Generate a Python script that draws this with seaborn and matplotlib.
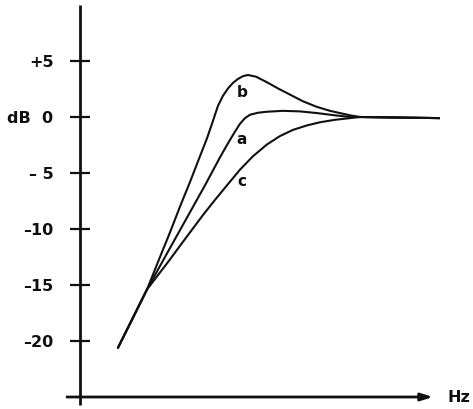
import matplotlib
matplotlib.use("Agg")
import matplotlib.pyplot as plt
import seaborn as sns
import pandas as pd

# ---- data (x is an arbitrary frequency scale) ----
b_x = [3.8, 6.7, 8.0, 9.0, 10.0, 11.0, 12.0, 12.7, 13.2, 13.8, 14.3, 14.8, 15.3, 15.8, 16.3, 16.8, 17.6, 18.7, 19.8, 21.0, 22.3, 23.7, 25.0, 26.0, 27.0, 28.0, 32.0, 36.0]
b_db = [-20.6, -15.4, -12.5, -10.3, -8.0, -5.8, -3.5, -1.9, -0.6, 1.0, 1.9, 2.55, 3.05, 3.4, 3.65, 3.75, 3.6, 3.1, 2.55, 2.0, 1.4, 0.9, 0.55, 0.35, 0.15, 0.0, -0.05, -0.1]
a_x = [3.8, 6.7, 8.5, 10.5, 12.5, 14.0, 14.7, 15.4, 16.0, 16.5, 17.0, 17.8, 18.7, 20.3, 22.0, 23.7, 25.5, 27.0, 28.0, 32.0, 36.0]
a_db = [-20.6, -15.4, -12.5, -9.3, -6.1, -3.6, -2.5, -1.45, -0.6, -0.1, 0.2, 0.38, 0.47, 0.55, 0.5, 0.35, 0.15, 0.0, 0.0, -0.05, -0.1]
c_x = [3.8, 6.7, 8.8, 10.5, 12.3, 13.5, 14.7, 16.0, 17.3, 18.7, 20.0, 21.3, 22.7, 24.0, 25.5, 27.0, 28.0, 32.0, 36.0]
c_db = [-20.6, -15.4, -12.95, -10.9, -8.75, -7.4, -6.1, -4.7, -3.5, -2.45, -1.7, -1.15, -0.75, -0.47, -0.25, -0.1, 0.0, -0.05, -0.1]

curve_names = ["b", "a", "c"]
label_x = [16.2, 16.2, 16.2]
label_db = [2.2, -2.0, -5.8]

ytick_vals = [5, 0, -5, -10, -15, -20]
ytick_labels = ["+5", "dB  0", "– 5", "–10", "–15", "–20"]
x_unit = "Hz"

# ---- build table ----
frames = []
for name, xs, ys in zip(curve_names, [b_x, a_x, c_x], [b_db, a_db, c_db]):
    frames.append(pd.DataFrame({"f": xs, "dB": ys, "curve": name}))
df = pd.concat(frames, ignore_index=True)

sns.set_style("white")
plt.rcParams["font.family"] = ["DejaVu Sans"]
plt.rcParams["font.weight"] = "bold"

W, H = 473, 409
fig = plt.figure(figsize=(W / 100, H / 100), dpi=100)
ax = fig.add_axes([80 / W, 12 / H, 360 / W, 392 / H])
ax.set_xlim(0, 36)
ax.set_ylim(-25, 10)

ink = "#101010"
sns.lineplot(data=df, x="f", y="dB", units="curve", estimator=None, sort=False,
             color=ink, linewidth=1.5, ax=ax, legend=False)

for name, lx, ly in zip(curve_names, label_x, label_db):
    ax.text(lx, ly, name, ha="center", va="center", fontsize=11, fontweight="bold", color=ink)

for s in ax.spines.values():
    s.set_visible(False)

# axes lines
ax.plot([0, 0], [-25.7, 10.0], color=ink, lw=2.0, clip_on=False, solid_capstyle="butt")
ax.annotate("", xy=(35.3, -25), xytext=(-1.3, -25), annotation_clip=False,
            arrowprops=dict(arrowstyle="-|>,head_length=0.7,head_width=0.22",
                            color=ink, lw=2.0, shrinkA=0, shrinkB=0))
ax.text(37.9, -25, x_unit, ha="center", va="center", fontsize=11.5, fontweight="bold",
        color=ink, clip_on=False)

ax.set_xticks([])
ax.set_yticks(ytick_vals)
ax.set_yticklabels(ytick_labels)
ax.tick_params(axis="y", direction="inout", length=14, width=1.6, color=ink,
               pad=12, labelsize=11.5, labelcolor=ink, left=True)
for t in ax.get_yticklabels():
    t.set_fontweight("bold")
ax.set_xlabel("")
ax.set_ylabel("")

fig.savefig("out.png", dpi=100)
